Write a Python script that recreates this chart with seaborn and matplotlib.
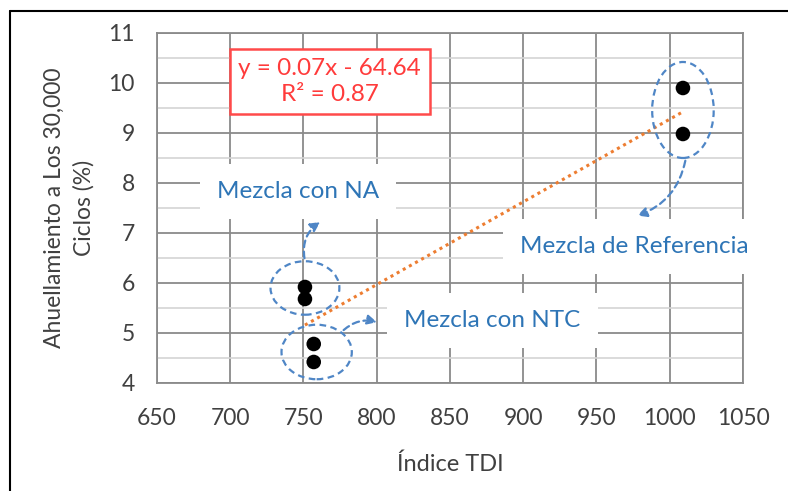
import numpy as np
import pandas as pd
import seaborn as sns
import matplotlib.pyplot as plt
from matplotlib.patches import Ellipse
from matplotlib.lines import Line2D

# datos
tdi = [751, 751, 757, 757, 1009, 1009]
ahuellamiento = [5.92, 5.68, 4.78, 4.42, 9.90, 8.98]
mezcla = ["NA", "NA", "NTC", "NTC", "Referencia", "Referencia"]
x_ticks = [650, 700, 750, 800, 850, 900, 950, 1000, 1050]
y_ticks = [4, 5, 6, 7, 8, 9, 10, 11]
ecuacion = "y = 0.07x - 64.64\nR² = 0.87"

df = pd.DataFrame({"tdi": tdi, "ahu": ahuellamiento, "mezcla": mezcla})

sns.set_theme(style="white")
plt.rcParams["font.family"] = ["Lato", "DejaVu Sans"]

gris = "#404040"
azul = "#2E75B6"
azul_e = "#4F86C6"

fig = plt.figure(figsize=(7.88, 4.91), dpi=100)
ax = fig.add_axes([0.1992, 0.22, 0.7437, 0.7128])

# rejilla
ax.set_xlim(650, 1050)
ax.set_ylim(4, 11)
ax.set_xticks(x_ticks)
ax.set_yticks(y_ticks)
ax.set_yticks(np.arange(4.5, 11, 1.0), minor=True)
ax.grid(True, which="major", color="#8a8a8a", lw=1.3)
ax.grid(True, which="minor", axis="y", color="#d4d4d4", lw=1.2)
ax.set_axisbelow(True)
for s in ax.spines.values():
    s.set_color("#8a8a8a")
    s.set_linewidth(1.3)
ax.tick_params(axis="both", which="major", direction="out", length=9, width=1.3,
               color="#8a8a8a", labelcolor=gris, labelsize=16.5, pad=4)
ax.tick_params(axis="y", which="minor", length=0)
ax.tick_params(axis="y", which="major", length=10, pad=6)
ax.tick_params(axis="x", which="major", pad=9)

# etiquetas blancas sobre la rejilla
fs_et = 17.5
ax.text(746, 7.83, "Mezcla con NA", color=azul, fontsize=fs_et, ha="center", va="center",
        bbox=dict(boxstyle="square,pad=0.7", fc="white", ec="none"), zorder=3)
ax.text(976, 6.73, "Mezcla de Referencia", color=azul, fontsize=fs_et, ha="center", va="center",
        bbox=dict(boxstyle="square,pad=0.7", fc="white", ec="none"), zorder=3)
ax.text(879, 5.25, "Mezcla con NTC", color=azul, fontsize=fs_et, ha="center", va="center",
        bbox=dict(boxstyle="square,pad=0.7", fc="white", ec="none"), zorder=3)

# linea de tendencia
m, b = np.polyfit(df["tdi"], df["ahu"], 1)
xs = np.array([min(tdi), max(tdi)])
ax.plot(xs, m * xs + b, ls=(0, (1, 1.3)), color="#ED7D31", lw=2.2, zorder=4)

sns.scatterplot(data=df, x="tdi", y="ahu", color="black", s=110, edgecolor="none", ax=ax, zorder=5, legend=False)

# elipses
for cx, cy, w, h in [(751, 5.9, 47, 1.07), (759, 4.62, 48, 1.09), (1009, 9.46, 42, 1.92)]:
    ax.add_patch(Ellipse((cx, cy), w, h, fill=False, ec=azul_e, lw=1.6, ls=(0, (3, 2)), zorder=4))

# flechas
flecha = dict(arrowstyle="-|>", color=azul_e, lw=1.6, ls=(0, (3, 2)), mutation_scale=14)
ax.annotate("", xy=(763, 7.25), xytext=(751, 6.44),
            arrowprops=dict(flecha, connectionstyle="arc3,rad=-0.35"), zorder=4)
ax.annotate("", xy=(802, 5.2), xytext=(776, 5.02),
            arrowprops=dict(flecha, connectionstyle="arc3,rad=-0.3"), zorder=4)
ax.annotate("", xy=(976, 7.33), xytext=(1011, 8.5),
            arrowprops=dict(flecha, connectionstyle="arc3,rad=-0.3"), zorder=4)

# ecuacion
ax.text(768, 10.03, ecuacion, color="#FF3B3B", fontsize=17.5, ha="center", va="center",
        linespacing=1.35, zorder=6,
        bbox=dict(boxstyle="square,pad=0.35", fc="white", ec="#FF4A4A", lw=1.8))

ax.set_xlabel("Índice TDI", color=gris, fontsize=17, labelpad=18)
ax.set_ylabel("Ahuellamiento a Los 30,000\nCiclos (%)", color=gris, fontsize=16.5, labelpad=10,
              linespacing=1.45)

# marco exterior
fig.add_artist(Line2D([10 / 788, 1], [1 - 11 / 491, 1 - 11 / 491], color="black", lw=1.5))
fig.add_artist(Line2D([10 / 788, 10 / 788], [0, 1 - 11 / 491], color="black", lw=1.5))

fig.savefig("out.png", dpi=100)
